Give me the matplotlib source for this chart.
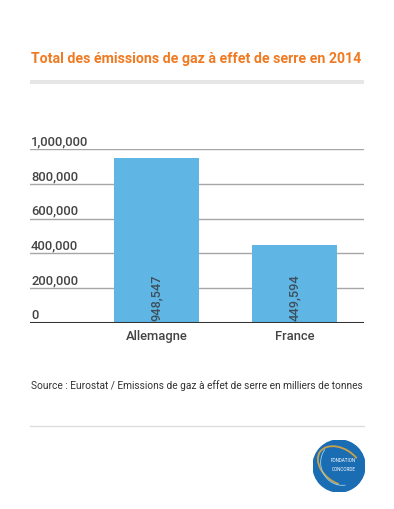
import matplotlib.pyplot as plt
import matplotlib.transforms as mtransforms
from matplotlib.patches import Rectangle, Circle, Arc

countries = ["Allemagne", "France"]
emissions = [948547, 449594]
yticks = [0, 200000, 400000, 600000, 800000, 1000000]

W, H = 394, 509
plt.rcParams['font.family'] = ['Roboto', 'DejaVu Sans']

fig = plt.figure(figsize=(W / 100, H / 100), dpi=100)
fig.patch.set_facecolor('white')


def fx(px):
    return px / W


def fy(py):
    return 1 - py / H


# title + grey band
fig.text(fx(31), fy(59), "Total des émissions de gaz à effet de serre en 2014",
         color='#f07a22', fontsize=10.2, fontweight='bold', va='center', ha='left')
fig.patches.append(Rectangle((fx(30), fy(84)), fx(334), 4 / H, transform=fig.transFigure,
                             facecolor='#e6e6e6', edgecolor='none'))

ax = fig.add_axes([fx(30), fy(323), fx(334), (323 - 149) / H])
ax.set_xlim(-0.917, 1.504)
ax.set_ylim(0, 1000000)
for s in ax.spines.values():
    s.set_visible(False)
ax.set_xticks([])
ax.set_yticks([])

for v in yticks[1:]:
    ax.axhline(v, color='#a6a6a6', lw=1, zorder=1)
ax.axhline(0, color='#333333', lw=2.2, zorder=4)

bars = ax.bar(range(len(countries)), emissions, width=0.616, color='#5fb5e3', zorder=2)

trans = mtransforms.blended_transform_factory(ax.transAxes, ax.transData)
trans = mtransforms.offset_copy(trans, fig=fig, y=0.6, units='points')
for v in yticks:
    ax.text(0.003, v, f"{v:,}", transform=trans, fontsize=9.4, color='#444444',
            fontweight='medium', ha='left', va='bottom')

for i, v in enumerate(emissions):
    ax.text(i, 12000, f"{v:,}", rotation=90, ha='center', va='bottom',
            fontsize=9.2, fontweight='medium', color='#3d4f5c', zorder=5)
    ax.text(i, -80000, countries[i], ha='center', va='center', fontsize=9.4,
            fontweight='medium', color='#444444')

# source + separator
fig.text(fx(31), fy(386), "Source : Eurostat / Emissions de gaz à effet de serre en milliers de tonnes",
         fontsize=7.25, color='#333333', va='center', ha='left')
fig.add_artist(plt.Line2D([fx(30), fx(364)], [fy(425.5), fy(425.5)], color='#dddddd', lw=1))

# logo
lax = fig.add_axes([fx(313), fy(492), fx(52), 52 / H])
lax.set_xlim(-1, 1)
lax.set_ylim(-1, 1)
lax.set_aspect('equal')
lax.axis('off')
lax.add_patch(Circle((0, 0), 1, color='#1a6db3'))
lax.add_patch(Arc((0.05, 0.0), 1.9, 1.3, angle=-35, theta1=60, theta2=300, color='#c9a24a', lw=1.3))
lax.add_patch(Arc((0.1, 0.1), 1.6, 1.7, angle=20, theta1=120, theta2=260, color='#9fd0f0', lw=0.6))
lax.text(0.18, 0.1, "FONDATION", color='white', fontsize=3.3, ha='center', va='bottom')
lax.text(0.18, -0.05, "CONCORDE", color='white', fontsize=3.3, ha='center', va='top')

fig.savefig('out.png', dpi=100, facecolor='white')
